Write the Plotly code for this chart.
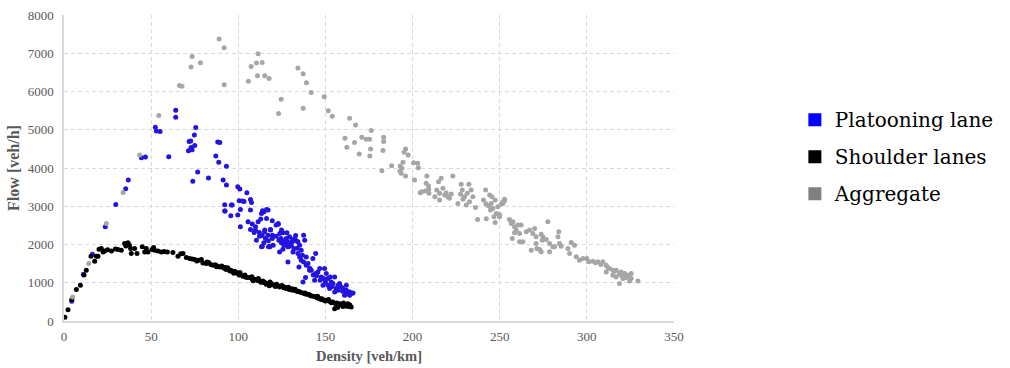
import plotly.graph_objects as go

# ---------------- data ----------------
platoon_density = [
    4.4, 11.1, 16.3, 23.7, 29.7, 35.4, 36.9, 44.4, 46.7, 52.4,
    55.1, 53.0, 60.1, 64.1, 64.1, 75.6, 74.8, 75.0, 72.9, 71.4,
    73.5, 71.8, 72.7, 73.9, 76.7, 82.9, 88.2, 89.4, 87.1, 88.8,
    93.2, 91.3, 93.2, 92.2, 92.2, 96.5, 95.7, 99.7, 100.9, 99.7,
    100.5, 102.4, 103.3, 101.2, 101.2, 104.9, 107.0, 107.6, 107.0, 105.6,
    108.0, 107.0, 109.9, 109.1, 111.4, 112.9, 113.3, 114.8, 116.2, 113.9,
    117.1, 110.4, 112.1, 113.7, 115.6, 117.3, 113.3, 117.3, 115.2, 116.2,
    118.5, 119.6, 121.7, 122.9, 124.8, 123.8, 118.1, 120.0, 96.0, 92.4,
    119.5, 122.9, 118.4, 115.1, 112.2, 109.8, 117.0, 119.5, 114.7, 118.0,
    113.8, 121.8, 123.3, 124.5, 125.6, 127.9, 129.4, 127.2, 128.5, 130.4,
    132.9, 133.3, 135.2, 137.5, 138.1, 131.9, 125.6, 123.7, 128.5, 131.4,
    134.2, 136.1, 139.0, 134.8, 139.0, 142.8, 144.4, 140.9, 144.4, 146.7,
    149.5, 150.5, 148.9, 152.8, 154.3, 157.2, 159.1, 162.0, 164.8, 161.0,
    156.2, 155.3, 151.4, 148.6, 138.6, 137.1, 143.8, 147.0, 124.7, 126.6,
    127.9, 129.4, 131.0, 132.3, 134.2, 127.5, 125.2, 136.1, 135.2, 137.5,
    140.0, 141.9, 145.7, 147.6, 151.4, 153.3, 158.1, 160.0, 162.9, 163.9,
    165.8, 162.0, 157.2, 152.4, 155.3, 126.0, 129.0, 130.8, 133.8, 128.0,
    136.8, 141.0, 143.0, 145.0, 150.0, 153.8, 156.8, 159.8, 161.5, 164.0,
]
platoon_flow = [
    515, 1223, 1747, 2463, 3048, 3459, 3686, 4271, 4288, 5066,
    4952, 4970, 4297, 5511, 5328, 5057, 4865, 4585, 4533, 4454,
    4480, 4690, 4708, 3651, 3895, 3738, 4681, 4664, 4315, 4149,
    4044, 3686, 3555, 3039, 2873, 3031, 2751, 3511, 3450, 2769,
    3144, 3135, 3127, 2917, 2463, 3354, 3179, 3100, 2899, 2594,
    2533, 2393, 2463, 2314, 2594, 2664, 2812, 2856, 2917, 2882,
    2899, 2114, 2314, 2236, 2157, 2096, 1939, 1939, 2376, 2681,
    2376, 2245, 2507, 2550, 2376, 2288, 1939, 1983, 3030, 2873,
    2620, 2532, 2392, 2331, 2218, 2375, 2244, 2157, 2043, 1956,
    1956, 2218, 2113, 2157, 2305, 2305, 2200, 2069, 1938, 1982,
    2235, 2096, 1982, 2244, 2113, 1895, 1877, 1807, 1545, 1807,
    1764, 1589, 1676, 1414, 1458, 1633, 1764, 1327, 1240, 1371,
    1371, 1240, 1109, 1152, 978, 934, 890, 803, 716, 672,
    847, 1152, 934, 934, 1135, 1021, 1065, 1065, 2043, 1982,
    2069, 2026, 2069, 2157, 2069, 2157, 2096, 1851, 1676, 1545,
    1502, 1327, 1284, 1152, 1109, 1021, 978, 847, 760, 672,
    733, 934, 803, 847, 760, 2000, 1950, 2120, 1900, 2080,
    1720, 1380, 1200, 1180, 1020, 900, 860, 780, 700, 760,
]

shoulder_density = [
    0.5, 2.3, 4.5, 7.1, 9.4, 11.5, 12.8, 15.5, 17.6, 18.6,
    19.5, 20.1, 21.4, 22.4, 23.3, 25.0, 27.2, 29.5, 31.0, 32.9,
    34.8, 35.5, 36.7, 37.5, 38.2, 38.6, 40.5, 41.9, 44.9, 46.3,
    47.2, 48.2, 50.5, 51.4, 52.0, 53.9, 55.8, 57.5, 59.3, 62.5,
    65.4, 67.0, 68.3, 70.2, 72.1, 73.5, 75.0, 76.2, 77.3, 78.8,
    79.7, 81.6, 83.0, 84.2, 85.5, 86.8, 88.0, 89.3, 90.5, 91.8,
    93.1, 94.0, 95.2, 96.9, 98.0, 99.8, 101.0, 102.7, 103.8, 105.0,
    106.5, 107.8, 109.0, 110.3, 111.5, 112.6, 114.1, 115.3, 117.0, 118.2,
    119.5, 120.8, 122.0, 123.7, 125.0, 126.2, 127.5, 128.8, 130.0, 131.4,
    132.6, 134.0, 135.2, 136.5, 137.8, 139.0, 140.2, 141.5, 142.8, 144.0,
    145.3, 146.7, 148.0, 149.2, 150.5, 151.8, 153.0, 154.3, 155.3, 156.5,
    157.5, 158.1, 159.2, 160.3, 161.2, 162.0, 162.9, 163.8, 164.8, 157.0,
    160.0, 152.0, 145.5, 138.3, 133.0, 126.8, 121.3, 116.0, 113.0, 108.5,
    104.2, 100.5, 97.5, 92.5, 87.5, 82.0, 113.8, 117.8, 125.6, 130.8,
    99.0, 103.0, 108.0, 111.0, 115.0, 119.0, 123.0, 129.0, 134.5, 141.0,
    147.5, 150.0, 153.5, 156.0, 159.8, 161.5, 163.0, 164.0, 91.0, 95.8,
]
shoulder_flow = [
    100, 297, 560, 821, 934, 1200, 1327, 1690, 1563, 1694,
    1694, 1877, 1895, 1807, 1833, 1860, 1833, 1880, 1868, 1851,
    2026, 1960, 2043, 1990, 1895, 1764, 1895, 1764, 1938, 1807,
    1895, 1807, 1870, 1921, 1851, 1833, 1807, 1820, 1807, 1790,
    1694, 1760, 1764, 1659, 1633, 1620, 1607, 1570, 1589, 1607,
    1519, 1502, 1530, 1480, 1458, 1470, 1440, 1414, 1440, 1380,
    1345, 1390, 1310, 1284, 1300, 1240, 1270, 1170, 1200, 1140,
    1135, 1160, 1090, 1083, 1110, 1040, 1048, 1000, 978, 1020,
    950, 934, 960, 891, 930, 870, 847, 880, 820, 803,
    830, 770, 760, 740, 720, 698, 700, 660, 646, 640,
    600, 585, 580, 540, 541, 560, 500, 498, 323, 470,
    440, 454, 420, 470, 390, 410, 454, 400, 367, 350,
    380, 520, 650, 730, 790, 880, 900, 960, 1010, 1050,
    1150, 1200, 1250, 1400, 1420, 1540, 1020, 920, 900, 840,
    1270, 1180, 1100, 1060, 1010, 980, 920, 830, 780, 680,
    560, 520, 480, 430, 420, 440, 380, 420, 1410, 1330,
]

aggregate_density = [
    5.0, 14.2, 24.3, 33.9, 43.4, 54.4, 66.2, 67.7, 72.9, 73.5,
    78.3, 89.0, 91.9, 91.9, 105.8, 107.4, 110.4, 111.4, 113.7, 111.0,
    115.2, 117.7, 123.1, 124.6, 134.2, 137.2, 139.1, 141.8, 137.2, 149.3,
    151.6, 153.9, 163.9, 167.3, 176.3, 161.2, 162.3, 166.7, 170.9, 173.4,
    175.3, 169.4, 175.9, 175.5, 183.4, 183.4, 183.0, 182.4, 188.0, 196.0,
    195.2, 197.5, 194.5, 192.9, 193.9, 192.7, 193.5, 196.0, 200.6, 202.9,
    203.3, 201.1, 208.2, 207.8, 209.2, 205.2, 207.3, 209.2, 204.4, 209.4,
    216.4, 214.9, 213.9, 212.8, 215.5, 217.4, 219.3, 220.3, 222.2, 223.1,
    218.4, 221.2, 215.5, 227.9, 228.5, 232.3, 233.6, 229.8, 228.9, 230.8,
    232.7, 234.6, 236.1, 226.0, 227.5, 231.4, 241.9, 240.7, 244.2, 245.5,
    242.1, 246.1, 247.4, 251.8, 243.6, 244.7, 237.3, 242.3, 246.7, 248.0,
    247.4, 249.9, 252.8, 245.1, 248.9, 250.9, 251.8, 252.8, 249.9, 255.6,
    257.6, 256.6, 258.5, 260.4, 259.5, 261.4, 258.5, 262.3, 257.2, 261.4,
    263.3, 265.2, 267.1, 269.0, 270.0, 270.9, 273.8, 274.8, 274.4, 277.6,
    276.7, 278.6, 280.5, 270.9, 271.3, 272.9, 268.1, 273.8, 278.6, 283.9,
    283.4, 284.3, 281.5, 285.3, 289.1, 290.1, 291.0, 292.9, 293.9, 295.8,
    297.7, 300.0, 301.1, 303.4, 306.3, 309.2, 311.1, 313.0, 314.9, 311.1,
    316.8, 318.7, 319.7, 321.6, 323.5, 325.4, 322.6, 320.7, 324.5, 318.7,
    329.3, 316.8, 314.9, 325.4, 305.0, 308.0, 312.0, 315.8, 319.5, 322.0,
]
aggregate_flow = [
    629, 1502, 2550, 3362, 4340, 5371, 6157, 6140, 6638, 6917,
    6751, 7371, 7144, 6175, 6271, 6655, 6743, 6987, 6760, 6411,
    6411, 6341, 5424, 5800, 6612, 6463, 6227, 5974, 5563, 5861,
    5494, 5354, 5302, 5127, 4979, 4778, 4542, 4664, 4804, 4752,
    4752, 4367, 4498, 4315, 4804, 4690, 4455, 3931, 4062, 4498,
    4411, 4341, 4149, 4053, 3992, 3922, 3861, 3791, 4140, 4123,
    4009, 3686, 3791, 3599, 3529, 3380, 3398, 3442, 3354, 3337,
    3730, 3642, 3424, 3249, 3162, 3468, 3354, 3249, 3319, 3791,
    3293, 3206, 3337, 3573, 3424, 3573, 3424, 3249, 3180, 3031,
    3118, 3249, 2970, 3075, 3311, 3337, 3424, 3162, 3293, 3249,
    3057, 2944, 3162, 3119, 3005, 2900, 2656, 2673, 2726, 2813,
    2577, 2787, 3180, 3075, 2988, 3057, 3075, 3145, 2725, 2655,
    2594, 2551, 2463, 2507, 2376, 2289, 2306, 2507, 2158, 2070,
    2070, 2332, 2376, 2289, 2420, 2201, 2271, 2201, 2114, 2594,
    2132, 2027, 1939, 2027, 1896, 1870, 1852, 1808, 1808, 2332,
    2201, 2027, 1939, 1957, 1896, 1765, 2053, 1983, 1677, 1590,
    1634, 1634, 1546, 1564, 1546, 1546, 1459, 1372, 1328, 1284,
    1328, 1241, 1284, 1241, 1197, 1110, 1136, 1110, 1049, 979,
    1049, 1153, 1197, 1241, 1520, 1480, 1400, 1300, 1200, 1150,
]

series_names = ["Platooning lane", "Shoulder lanes", "Aggregate"]
point_colors = ["#2414e0", "#000000", "#a6a6a6"]
legend_colors = ["#0000ff", "#000000", "#808080"]

x_ticks = [0, 50, 100, 150, 200, 250, 300, 350]
y_ticks = [0, 1000, 2000, 3000, 4000, 5000, 6000, 7000, 8000]

SERIF = "Liberation Serif, Times New Roman, serif"

fig = go.Figure()
for name, xs, ys, col in [
    (series_names[0], platoon_density, platoon_flow, point_colors[0]),
    (series_names[1], shoulder_density, shoulder_flow, point_colors[1]),
    (series_names[2], aggregate_density, aggregate_flow, point_colors[2]),
]:
    fig.add_trace(go.Scatter(
        x=xs, y=ys, mode="markers", name=name, showlegend=False,
        marker=dict(color=col, size=5, line=dict(width=0)),
        cliponaxis=False,
    ))

# legend-only entries with square swatches
for i, (name, col) in enumerate(zip(series_names, legend_colors)):
    fig.add_trace(go.Scatter(
        x=[None], y=[None], mode="markers", name=name,
        legendgroup="g%d" % i,
        marker=dict(color=col, size=13, symbol="square", line=dict(width=0)),
    ))

fig.update_layout(
    width=1010, height=368,
    margin=dict(l=64, r=336, t=15, b=47, autoexpand=False),
    paper_bgcolor="white", plot_bgcolor="white",
    font=dict(family=SERIF, color="#595959", size=13),
    showlegend=True,
    legend=dict(
        xref="container", x=0.787, xanchor="left",
        y=0.537, yanchor="middle",
        font=dict(family="DejaVu Serif, Liberation Serif, serif", size=20, color="#000000"),
        bgcolor="rgba(0,0,0,0)", itemwidth=30,
        traceorder="grouped", tracegroupgap=8,
    ),
    xaxis=dict(
        range=[0, 350], tickmode="array", tickvals=x_ticks,
        showgrid=True, gridcolor="#d9d9d9", griddash="4px,3px", gridwidth=1,
        showline=True, linecolor="#d9d9d9", linewidth=1.5,
        zeroline=False, ticks="", ticklen=0, ticklabelstandoff=3,
        automargin=False,
        tickfont=dict(family=SERIF, size=13, color="#595959"),
        title=dict(text="<b>Density [veh/km]</b>", standoff=8,
                   font=dict(family=SERIF, size=14.5, color="#595959")),
    ),
    yaxis=dict(
        range=[0, 8000], tickmode="array", tickvals=y_ticks,
        showgrid=True, gridcolor="#d9d9d9", griddash="4px,3px", gridwidth=1,
        showline=True, linecolor="#d9d9d9", linewidth=1.5,
        zeroline=False, ticks="", ticklen=0, ticklabelstandoff=6,
        automargin=False,
        tickfont=dict(family=SERIF, size=13, color="#595959"),
        title=dict(text="<b>Flow [veh/h]</b>", standoff=4,
                   font=dict(family=SERIF, size=16, color="#595959")),
    ),
)

fig.write_html("out.html")
